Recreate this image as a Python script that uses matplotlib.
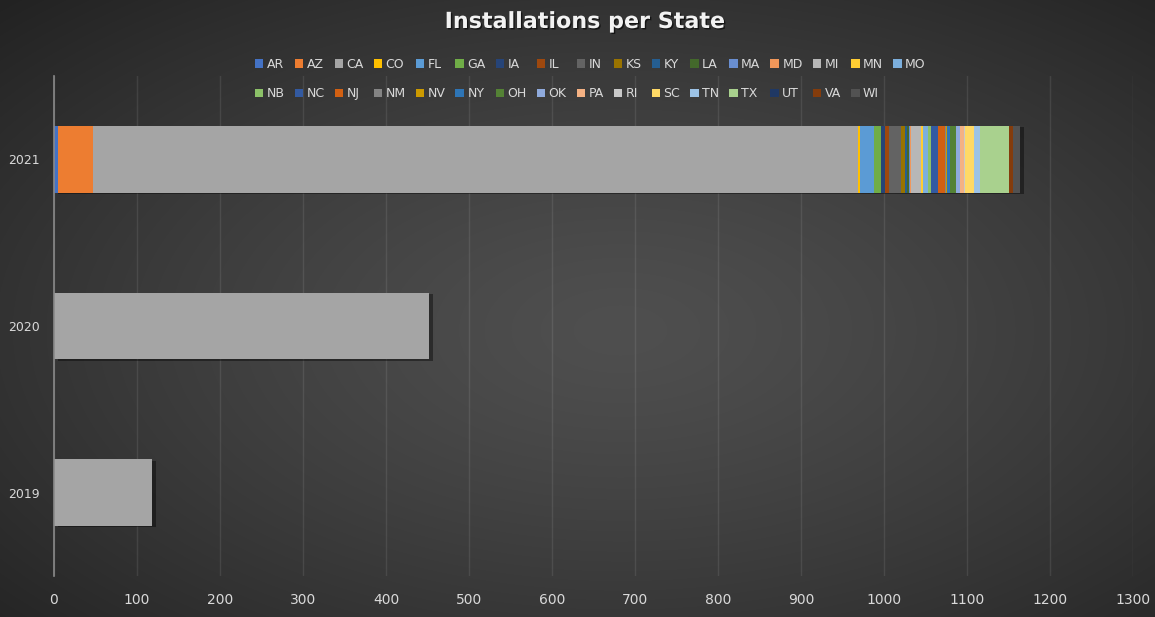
import numpy as np
import matplotlib
matplotlib.use("Agg")
import matplotlib.pyplot as plt
import matplotlib.patheffects as pe
from matplotlib.patches import Patch

# ---------------- data ----------------
years = ["2019", "2020", "2021"]
states = ["AR", "AZ", "CA", "CO", "FL", "GA", "IA", "IL", "IN", "KS", "KY", "LA",
          "MA", "MD", "MI", "MN", "MO", "NB", "NC", "NJ", "NM", "NV", "NY", "OH",
          "OK", "PA", "RI", "SC", "TN", "TX", "UT", "VA", "WI"]
values_2019 = [0, 0, 118] + [0] * 30
values_2020 = [0, 0, 452] + [0] * 30
values_2021 = [5, 42, 922, 2, 17, 8, 5, 5, 14, 5, 3, 2,
               1, 2, 11, 3, 6, 4, 8, 9, 1, 1, 3, 8,
               4, 5, 1, 12, 7, 34, 1, 5, 8]
x_ticks = list(range(0, 1301, 100))

colors = ["#4472C4", "#ED7D31", "#A5A5A5", "#FFC000", "#5B9BD5", "#70AD47",
          "#264478", "#9E480E", "#636363", "#997300", "#255E91", "#43682B",
          "#698ED0", "#F1975A", "#B7B7B7", "#FFCD33", "#7CAFDD", "#8CC168",
          "#335AA1", "#D26012", "#848484", "#CC9A00", "#2E75B6", "#548235",
          "#8FAADC", "#F4B183", "#C9C9C9", "#FFD966", "#9DC3E6", "#A9D18E",
          "#1F3864", "#843C0C", "#525252"]

W, H = 1155, 617
fig = plt.figure(figsize=(W / 100, H / 100), dpi=100)

# background radial gradient
bg = fig.add_axes([0, 0, 1, 1], zorder=-10)
yy, xx = np.mgrid[0:H, 0:W]
cx, cy = 620, 330
r = np.sqrt(((xx - cx) / W) ** 2 + ((yy - cy) / H) ** 2)
r = r / r.max()
c0, c1 = 0x4f, 0x22
val = (c0 - (c0 - c1) * np.clip(r, 0, 1) ** 1.3) / 255.0
img = np.dstack([val, val, val])
bg.imshow(img, aspect="auto", extent=[0, 1, 0, 1], origin="upper")
bg.axis("off")

ax = fig.add_axes([54 / W, 1 - 576 / H, (1133 - 54) / W, (576 - 76) / H])
ax.set_facecolor("none")

data = np.array([values_2019, values_2020, values_2021])
ypos = np.arange(len(years))
left = np.zeros(len(years))
shadow = [pe.SimplePatchShadow(offset=(3, -1), shadow_rgbFace="black", alpha=0.4), pe.Normal()]
for i, st in enumerate(states):
    bars = ax.barh(ypos, data[:, i], left=left, height=0.4, color=colors[i],
                   label=st, zorder=3, linewidth=0)
    for b, v in zip(bars, data[:, i]):
        if v > 0:
            b.set_path_effects(shadow)
    left += data[:, i]

ax.set_xlim(0, 1300)
ax.set_ylim(-0.5, 2.5)
ax.set_xticks(x_ticks)
ax.set_yticks(ypos)
ax.set_yticklabels(years)
ax.tick_params(axis="both", length=0, colors="#d9d9d9", labelsize=10)
ax.tick_params(axis="x", pad=12)
ax.tick_params(axis="y", pad=10)
for lab in ax.get_yticklabels():
    lab.set_fontsize(9)
ax.grid(axis="x", color="white", alpha=0.09, linewidth=1, zorder=0)
ax.set_axisbelow(True)
for s in ["top", "right", "bottom"]:
    ax.spines[s].set_visible(False)
ax.spines["left"].set_color("#8a8a8a")
ax.spines["left"].set_linewidth(1.2)
ax.spines["left"].set_zorder(4)

# legend: two rows, row-major order
handles = [Patch(facecolor=c, edgecolor="none") for c in colors]
row0 = list(range(17))
row1 = list(range(17, 33))
order = []
for j in range(16):
    order += [row0[j], row1[j]]
order.append(row0[16])
leg = fig.legend([handles[k] for k in order], [states[k] for k in order],
                 ncol=17, loc="center", bbox_to_anchor=(590 / W, 1 - 79 / H),
                 frameon=False, fontsize=9, labelcolor="#d9d9d9",
                 handlelength=0.7, handleheight=0.7, handletextpad=0.25,
                 columnspacing=0.8, labelspacing=1.35)

fig.text(585 / W, 1 - 22 / H, "Installations per State", ha="center", va="center",
         fontsize=16, fontweight="bold", color="#f2f2f2",
         path_effects=[pe.withSimplePatchShadow(offset=(1, -1), shadow_rgbFace="black", alpha=0.6)])

fig.savefig("out.png", dpi=100)
